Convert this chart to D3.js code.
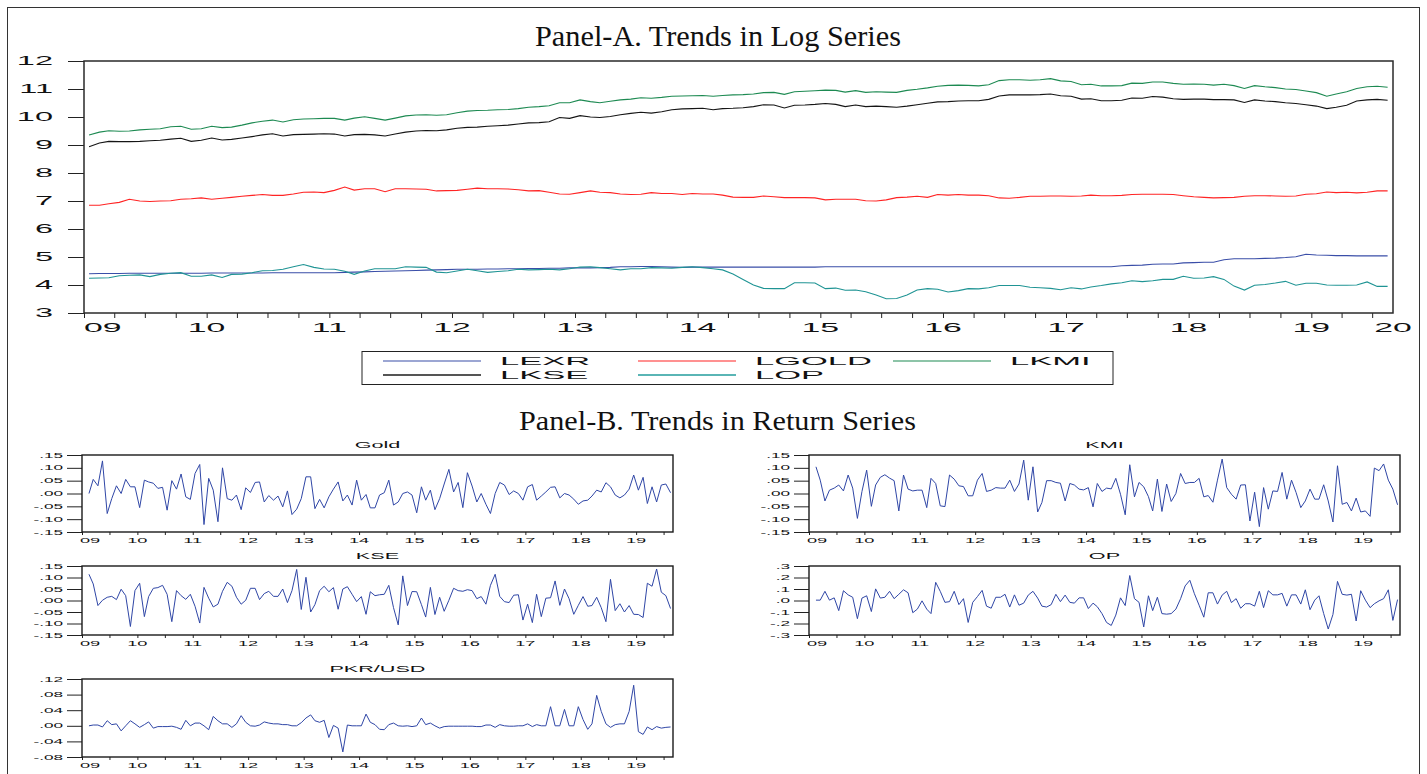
<!DOCTYPE html>
<html>
<head>
<meta charset="utf-8">
<script src="https://cdn.jsdelivr.net/npm/d3@7"></script>
<style>
  body { margin: 0; background: #fff; }
  svg { display: block; }
</style>
</head>
<body>
<script>
// ---- Panel A: monthly log levels, Jan 2009 .. Aug 2019
const lexr = [4.40,4.41,4.41,4.41,4.42,4.42,4.42,4.42,4.42,4.42,4.42,4.42,
  4.43,4.43,4.43,4.43,4.43,4.43,4.44,4.44,4.44,4.44,4.44,4.44,
  4.44,4.45,4.46,4.47,4.48,4.49,4.50,4.51,4.52,4.53,4.54,4.55,
  4.56,4.56,4.56,4.57,4.57,4.58,4.58,4.59,4.59,4.60,4.60,4.61,
  4.61,4.61,4.62,4.63,4.65,4.65,4.66,4.66,4.65,4.64,4.63,4.64,
  4.64,4.64,4.64,4.64,4.64,4.64,4.64,4.64,4.64,4.64,4.64,4.64,
  4.65,4.65,4.65,4.65,4.65,4.65,4.65,4.65,4.65,4.65,4.65,4.65,
  4.65,4.65,4.65,4.65,4.65,4.65,4.65,4.65,4.65,4.65,4.65,4.65,
  4.65,4.65,4.65,4.65,4.65,4.69,4.70,4.71,4.74,4.75,4.75,4.79,
  4.80,4.81,4.81,4.90,4.94,4.94,4.94,4.95,4.96,4.98,5.01,5.10,
  5.07,5.06,5.05,5.05,5.04,5.04,5.04,5.04];
const lgold = [6.85,6.85,6.90,6.95,7.06,7.00,6.98,7.00,7.01,7.06,
  7.08,7.11,7.06,7.10,7.13,7.17,7.20,7.23,7.20,7.20,
  7.25,7.31,7.32,7.30,7.38,7.50,7.39,7.44,7.44,7.33,
  7.44,7.44,7.43,7.42,7.36,7.37,7.38,7.42,7.46,7.44,
  7.44,7.43,7.40,7.36,7.37,7.31,7.25,7.24,7.30,7.36,
  7.31,7.30,7.25,7.23,7.24,7.30,7.27,7.27,7.23,7.27,
  7.25,7.25,7.21,7.14,7.13,7.13,7.18,7.15,7.12,7.12,
  7.12,7.11,7.04,7.06,7.06,7.06,7.01,7.00,7.04,7.12,
  7.14,7.17,7.13,7.23,7.21,7.23,7.21,7.21,7.19,7.11,
  7.10,7.13,7.17,7.17,7.18,7.18,7.17,7.18,7.21,7.19,
  7.19,7.20,7.23,7.24,7.24,7.24,7.23,7.19,7.15,7.13,
  7.11,7.12,7.13,7.17,7.19,7.19,7.18,7.17,7.18,7.24,
  7.26,7.32,7.30,7.31,7.29,7.31,7.36,7.36];
const lkmi = [9.36,9.46,9.51,9.49,9.50,9.54,9.56,9.58,9.65,9.67,
  9.56,9.58,9.67,9.62,9.64,9.71,9.79,9.85,9.89,9.82,
  9.90,9.93,9.94,9.95,9.95,9.89,9.96,10.01,9.95,9.89,
  9.96,10.04,10.07,10.08,10.06,10.08,10.15,10.21,10.23,10.24,
  10.26,10.27,10.30,10.35,10.37,10.40,10.51,10.51,10.61,10.55,
  10.51,10.56,10.61,10.64,10.69,10.67,10.70,10.74,10.75,10.76,
  10.77,10.74,10.77,10.79,10.80,10.82,10.87,10.88,10.81,10.90,
  10.92,10.94,10.96,10.95,10.89,10.94,10.88,10.90,10.89,10.88,
  10.95,10.99,11.04,11.10,11.13,11.14,11.13,11.11,11.15,11.30,
  11.33,11.33,11.31,11.33,11.37,11.29,11.27,11.15,11.17,11.11,
  11.11,11.12,11.21,11.20,11.25,11.25,11.20,11.17,11.18,11.17,
  11.14,11.17,11.12,11.02,11.12,11.08,11.05,11.00,10.98,10.93,
  10.87,10.74,10.82,10.90,11.02,11.08,11.10,11.06];
const lkse = [8.94,9.07,9.13,9.12,9.12,9.13,9.15,9.17,9.21,9.24,
  9.13,9.17,9.25,9.18,9.20,9.25,9.30,9.36,9.40,9.32,
  9.37,9.38,9.39,9.40,9.39,9.32,9.37,9.38,9.36,9.32,
  9.39,9.46,9.50,9.52,9.51,9.54,9.60,9.63,9.64,9.67,
  9.69,9.71,9.75,9.79,9.80,9.83,9.98,9.95,10.05,10.00,
  9.98,10.02,10.08,10.13,10.17,10.14,10.19,10.26,10.29,10.30,
  10.31,10.26,10.30,10.31,10.33,10.37,10.44,10.43,10.32,10.42,
  10.43,10.45,10.48,10.45,10.37,10.43,10.37,10.39,10.37,10.35,
  10.39,10.44,10.49,10.54,10.55,10.57,10.58,10.58,10.63,10.75,
  10.79,10.79,10.79,10.80,10.82,10.76,10.74,10.64,10.65,10.58,
  10.58,10.60,10.68,10.67,10.73,10.71,10.65,10.63,10.64,10.64,
  10.62,10.62,10.61,10.52,10.61,10.57,10.55,10.51,10.48,10.44,
  10.39,10.30,10.35,10.42,10.57,10.61,10.63,10.60];
const lop = [4.24,4.25,4.26,4.33,4.35,4.36,4.30,4.38,4.42,4.44,
  4.31,4.31,4.36,4.27,4.38,4.39,4.44,4.51,4.52,4.56,
  4.65,4.73,4.63,4.57,4.56,4.49,4.38,4.50,4.58,4.58,
  4.58,4.65,4.64,4.63,4.46,4.44,4.50,4.56,4.51,4.45,
  4.48,4.51,4.56,4.54,4.55,4.56,4.54,4.58,4.64,4.65,
  4.62,4.58,4.54,4.58,4.58,4.62,4.61,4.60,4.63,4.65,
  4.62,4.58,4.54,4.39,4.20,4.00,3.88,3.87,3.87,4.08,
  4.08,4.07,3.87,3.89,3.81,3.82,3.76,3.64,3.51,3.52,
  3.64,3.82,3.87,3.85,3.75,3.80,3.87,3.86,3.90,3.98,
  3.98,3.98,3.92,3.90,3.88,3.83,3.90,3.86,3.93,3.98,
  4.04,4.08,4.15,4.12,4.15,4.20,4.20,4.31,4.24,4.25,
  4.30,4.20,3.96,3.82,3.99,4.02,4.07,4.13,3.99,4.06,
  4.06,4.00,3.99,3.99,4.00,4.11,3.95,3.95];

const seriesA = ["LEXR", "LGOLD", "LKMI", "LKSE", "LOP"];
const yTicksA = [3, 4, 5, 6, 7, 8, 9, 10, 11, 12];
const yearLabelsA = ["09","10","11","12","13","14","15","16","17","18","19","20"];

// ---- Panel B: monthly returns, Feb 2009 .. Aug 2019
const gold = [0.000,0.055,0.030,0.127,-0.078,-0.020,0.030,0.000,0.055,0.026,
  0.026,-0.055,0.052,0.045,0.040,0.020,0.024,-0.065,0.050,0.017,
  0.076,-0.013,-0.023,0.078,0.113,-0.121,0.059,0.013,-0.110,0.100,
  -0.020,-0.026,-0.006,-0.063,0.022,0.004,0.043,0.045,-0.033,-0.008,
  -0.026,-0.010,-0.052,0.010,-0.082,-0.061,-0.020,0.065,0.065,-0.059,
  -0.023,-0.056,-0.013,0.017,0.045,-0.029,-0.006,-0.045,0.052,-0.026,
  -0.004,-0.056,-0.056,-0.006,0.003,0.052,-0.045,-0.033,0.000,0.006,
  -0.006,-0.075,0.026,-0.026,0.013,-0.063,-0.020,0.037,0.094,0.006,
  0.043,-0.055,0.081,0.029,-0.033,0.000,-0.042,-0.078,0.000,0.043,
  0.033,-0.004,0.010,0.000,-0.026,0.026,0.035,-0.026,-0.010,0.006,
  0.024,0.026,-0.017,0.000,-0.006,-0.022,-0.042,-0.029,-0.026,-0.010,
  0.013,0.006,0.042,0.026,-0.006,-0.017,-0.006,0.017,0.072,0.013,
  0.063,-0.039,0.026,-0.033,0.033,0.037,0.003];
const kmi = [0.104,0.052,-0.029,0.013,0.021,0.033,0.010,0.072,0.021,-0.097,
  0.008,0.091,-0.050,0.033,0.063,0.073,0.060,0.050,-0.068,0.072,
  0.017,0.010,0.013,0.013,-0.055,0.059,0.039,-0.048,-0.051,0.072,
  0.056,0.030,0.027,-0.009,-0.009,0.052,0.078,0.008,0.013,0.023,
  0.021,0.021,0.052,0.008,0.037,0.130,-0.026,0.104,-0.072,-0.035,
  0.050,0.050,0.043,0.040,-0.029,0.039,0.033,0.017,0.014,0.023,
  -0.052,0.039,0.008,0.021,0.018,0.059,-0.003,-0.083,0.112,-0.013,
  0.043,0.026,-0.012,-0.068,0.056,-0.070,0.037,-0.031,0.000,0.078,
  0.039,0.043,0.043,0.059,-0.013,-0.008,-0.034,0.052,0.134,0.023,
  -0.003,-0.022,0.033,0.034,-0.107,0.005,-0.129,0.023,-0.061,0.010,
  0.008,0.082,-0.022,0.052,0.004,-0.055,-0.029,0.017,-0.022,-0.022,
  0.034,-0.029,-0.111,0.108,-0.042,-0.035,-0.068,-0.018,-0.072,-0.068,
  -0.089,0.099,0.089,0.115,0.052,0.017,-0.044];
const kse = [0.114,0.072,-0.022,0.001,0.014,0.018,0.004,0.049,0.021,-0.113,
  0.043,0.075,-0.070,0.017,0.053,0.056,0.066,0.027,-0.092,0.043,
  0.021,0.005,0.027,-0.025,-0.098,0.057,0.010,-0.028,-0.016,0.040,
  0.079,0.062,0.014,-0.016,0.001,0.053,0.053,0.004,0.030,0.040,
  0.018,0.018,0.050,-0.009,0.043,0.135,-0.039,0.101,-0.050,-0.018,
  0.043,0.062,0.038,0.056,-0.038,0.050,0.060,0.027,-0.005,0.017,
  -0.060,0.038,0.021,0.025,0.027,0.066,-0.031,-0.106,0.107,-0.022,
  0.039,0.038,-0.018,-0.072,0.057,-0.061,0.014,-0.047,0.001,0.053,
  0.043,0.040,0.047,0.043,0.008,0.017,-0.016,0.066,0.114,0.018,
  -0.005,-0.009,0.023,0.025,-0.085,-0.016,-0.096,0.027,-0.070,0.010,
  0.012,0.085,-0.021,0.050,0.008,-0.060,-0.021,0.017,-0.025,-0.022,
  0.014,-0.031,-0.092,0.092,-0.044,-0.014,-0.050,-0.022,-0.060,-0.061,
  -0.074,0.075,0.062,0.137,0.036,0.021,-0.035];
const op = [0.003,0.003,0.080,0.003,0.023,-0.088,0.085,0.049,0.028,-0.158,
  0.021,0.041,-0.096,0.101,0.021,0.028,0.080,0.016,0.054,0.093,
  0.067,-0.106,-0.075,-0.003,-0.075,-0.114,0.158,0.080,-0.016,-0.010,
  0.080,-0.036,0.016,-0.191,-0.016,0.034,0.088,-0.049,-0.067,0.028,
  0.028,0.054,-0.057,0.049,-0.041,-0.023,0.047,0.080,0.021,-0.049,
  -0.057,-0.036,0.054,-0.010,0.047,-0.016,-0.023,0.023,0.023,-0.070,
  -0.023,-0.054,-0.114,-0.191,-0.217,-0.127,0.023,-0.044,0.217,0.016,
  -0.016,-0.230,0.041,-0.088,0.028,-0.114,-0.119,-0.114,-0.075,0.016,
  0.127,0.176,0.059,-0.041,-0.145,0.067,0.067,-0.031,0.047,0.080,
  -0.018,0.016,-0.067,-0.028,-0.028,-0.049,0.080,-0.062,0.085,0.049,
  0.049,0.062,-0.049,0.049,0.049,-0.031,0.093,-0.080,0.003,0.041,
  -0.114,-0.248,-0.122,0.166,0.054,0.047,0.054,-0.178,0.085,0.003,
  -0.062,-0.028,-0.003,0.016,0.093,-0.173,0.008];
const pkr = [0.000,0.002,0.002,-0.003,0.013,0.003,0.005,-0.013,0.000,0.013,
  0.005,-0.004,0.003,0.010,-0.006,-0.002,-0.002,-0.002,-0.001,-0.004,
  -0.009,0.014,0.000,0.007,0.007,0.000,-0.010,0.024,0.013,0.005,
  0.005,-0.004,0.005,0.026,0.009,0.000,-0.001,0.002,0.010,0.007,
  0.005,0.005,0.003,0.003,0.000,0.000,0.008,0.020,0.028,0.013,
  0.009,0.014,-0.030,0.001,-0.006,-0.067,0.002,0.000,0.000,0.000,
  0.030,0.009,0.003,-0.009,-0.010,0.003,0.007,0.000,-0.001,0.000,
  -0.002,0.000,0.020,0.003,0.007,0.000,-0.006,-0.002,-0.001,-0.001,
  -0.001,-0.001,-0.001,-0.001,-0.002,-0.002,0.002,0.002,-0.004,0.003,
  0.000,-0.001,-0.001,0.000,0.000,0.005,-0.002,0.003,0.000,0.000,
  0.049,0.000,0.000,0.042,0.000,0.000,0.049,0.016,-0.009,0.005,
  0.078,0.037,0.005,-0.004,0.003,0.005,0.005,0.037,0.104,-0.015,
  -0.022,-0.003,-0.010,-0.002,-0.006,-0.004,-0.003];

const titlesB = ["Gold", "KMI", "KSE", "OP", "PKR/USD"];
const tickValsB = [
  [-0.15,-0.10,-0.05,0,0.05,0.10,0.15],
  [-0.15,-0.10,-0.05,0,0.05,0.10,0.15],
  [-0.15,-0.10,-0.05,0,0.05,0.10,0.15],
  [-0.3,-0.2,-0.1,0,0.1,0.2,0.3],
  [-0.08,-0.04,0,0.04,0.08,0.12]];
const tickLabsB = [
  ["-.15","-.10","-.05",".00",".05",".10",".15"],
  ["-.15","-.10","-.05",".00",".05",".10",".15"],
  ["-.15","-.10","-.05",".00",".05",".10",".15"],
  ["-.3","-.2","-.1",".0",".1",".2",".3"],
  ["-.08","-.04",".00",".04",".08",".12"]];
const yearLabelsB = ["09","10","11","12","13","14","15","16","17","18","19"];

// ---------------------------------------------------------------
const W = 1427, H = 774;
const sans = "'Liberation Sans', Arial, sans-serif";
const serif = "'Liberation Serif', 'Times New Roman', serif";

const svg = d3.select("body").append("svg")
  .attr("width", W).attr("height", H);

// outer frame
svg.append("rect")
  .attr("x", 7.5).attr("y", 7.5).attr("width", 1412).attr("height", H)
  .attr("fill", "none").attr("stroke", "#333").attr("stroke-width", 1);

// text stretched sideways like the eviews export
function wide(g, str, x, y, size, sx, anchor, family) {
  const t = g.append("text")
    .attr("x", x).attr("y", y)
    .attr("font-size", size)
    .attr("font-family", family || sans)
    .attr("fill", "#111")
    .text(str);
  const w = t.node().getComputedTextLength() * sx;
  t.attr("textLength", w).attr("lengthAdjust", "spacingAndGlyphs");
  if (anchor === "end") t.attr("x", x - w);
  else if (anchor === "middle") t.attr("x", x - w / 2);
  return t;
}

// ---------------- Panel A
const gA = svg.append("g");
const datesA = lexr.map((d, i) => new Date(2009, i, 16));
const xA = d3.scaleTime()
  .domain([new Date(2009, 0, 1), new Date(2019, 8, 1)])
  .range([84, 1393]);
const yA = d3.scaleLinear().domain([3, 12]).range([313, 61]);

const title = gA.append("text")
  .attr("font-family", serif).attr("font-size", 29)
  .attr("y", 46).attr("fill", "#111")
  .text("Panel-A. Trends in Log Series")
  .attr("textLength", 366).attr("lengthAdjust", "spacingAndGlyphs")
  .attr("x", 718 - 183);

// quarter ticks on x
gA.append("g")
  .attr("transform", "translate(0,313)")
  .call(d3.axisBottom(xA)
    .tickValues(d3.timeMonth.every(3).range(new Date(2009, 0, 1), new Date(2019, 8, 1)))
    .tickSize(5).tickFormat(""))
  .call(g => g.select(".domain").remove())
  .call(g => g.selectAll("line").attr("stroke", "#222"));

gA.append("g")
  .attr("transform", "translate(84,0)")
  .call(d3.axisLeft(yA).tickValues(yTicksA).tickSize(16).tickFormat(""))
  .call(g => g.select(".domain").remove())
  .call(g => g.selectAll("line").attr("stroke", "#222"));

yTicksA.forEach(v => wide(gA, String(v), 53, yA(v) + 4, 13, 2.5, "end"));

yearLabelsA.forEach((lab, i) => {
  if (i === 0) wide(gA, lab, xA(new Date(2009, 0, 1)), 332, 13, 2.6, "start");
  else if (i === yearLabelsA.length - 1) wide(gA, lab, xA.range()[1], 332, 13, 2.6, "middle");
  else wide(gA, lab, xA(new Date(2009 + i, 0, 1)), 332, 13, 2.6, "middle");
});

const colorsA = { LEXR: "#3a4ea8", LGOLD: "#ff2424", LKMI: "#1d8a52", LKSE: "#151515", LOP: "#1f9494" };
const legendCol = { LEXR: "#3a4ea8", LGOLD: "#ff2424", LKMI: "#1d8a52", LKSE: "#555555", LOP: "#5ab5b5" };
const dataA = { LEXR: lexr, LGOLD: lgold, LKMI: lkmi, LKSE: lkse, LOP: lop };

const lineA = d3.line().x((d, i) => xA(datesA[i])).y(d => yA(d));
// draw order so that green/black sit on top like the reference
["LEXR", "LOP", "LGOLD", "LKSE", "LKMI"].forEach(k => {
  gA.append("path").datum(dataA[k])
    .attr("d", lineA)
    .attr("fill", "none")
    .attr("stroke", colorsA[k])
    .attr("stroke-width", 1.1);
});

gA.append("rect")
  .attr("x", 84).attr("y", 61).attr("width", 1393 - 84).attr("height", 313 - 61)
  .attr("fill", "none").attr("stroke", "#2a2a2a").attr("stroke-width", 1.5);

// legend
const gL = svg.append("g");
gL.append("rect").attr("x", 362).attr("y", 351.5).attr("width", 751).attr("height", 33)
  .attr("fill", "#fff").attr("stroke", "#222").attr("stroke-width", 1);
seriesA.forEach((k, i) => {
  const col = i % 3, row = Math.floor(i / 3);
  const lx = 383 + col * 255;
  const ly = 361 + row * 14;
  gL.append("line").attr("x1", lx).attr("x2", lx + 98).attr("y1", ly).attr("y2", ly)
    .attr("stroke", legendCol[k]).attr("stroke-width", row ? 1.8 : 1.2);
  wide(gL, k, lx + 117 + (col === 2 ? -0 : 0), ly + 3.6, 11.5, 3.0, "start");
});

const titleB = svg.append("text")
  .attr("font-family", serif).attr("font-size", 28)
  .attr("y", 430).attr("fill", "#111")
  .text("Panel-B. Trends in Return Series")
  .attr("textLength", 397).attr("lengthAdjust", "spacingAndGlyphs")
  .attr("x", 717.5 - 198.5);

// ---------------- Panel B small multiples
const dataB = [gold, kmi, kse, op, pkr];
const boxes = [
  { x0: 82, x1: 673, y0: 455, y1: 532 },
  { x0: 809, x1: 1400, y0: 455, y1: 532 },
  { x0: 82, x1: 673, y0: 566, y1: 635 },
  { x0: 809, x1: 1400, y0: 566, y1: 635 },
  { x0: 82, x1: 673, y0: 679, y1: 757 }];

dataB.forEach((vals, p) => {
  const b = boxes[p];
  const g = svg.append("g");
  const dates = vals.map((d, i) => new Date(2009, 1 + i, 16));
  const x = d3.scaleTime()
    .domain([new Date(2009, 0, 1), new Date(2019, 8, 1)])
    .range([b.x0, b.x1]);
  const tv = tickValsB[p];
  const y = d3.scaleLinear().domain([tv[0], tv[tv.length - 1]]).range([b.y1, b.y0]);

  wide(g, titlesB[p], (b.x0 + b.x1) / 2, b.y0 - 7, 9, 2.4, "middle");

  g.append("g").attr("transform", `translate(0,${b.y1})`)
    .call(d3.axisBottom(x)
      .tickValues(d3.timeMonth.every(6).range(new Date(2009, 0, 1), new Date(2019, 8, 1)))
      .tickSize(3).tickFormat(""))
    .call(s => s.select(".domain").remove())
    .call(s => s.selectAll("line").attr("stroke", "#222"));

  g.append("g").attr("transform", `translate(${b.x0},0)`)
    .call(d3.axisLeft(y).tickValues(tv).tickSize(15).tickFormat(""))
    .call(s => s.select(".domain").remove())
    .call(s => s.selectAll("line").attr("stroke", "#222"));

  tv.forEach((v, i) => wide(g, tickLabsB[p][i], b.x0 - 19, y(v) + 2.5, 7, 2.45, "end"));

  yearLabelsB.forEach((lab, i) => {
    const xx = x(new Date(2009 + i, 0, 1));
    wide(g, lab, i === 0 ? xx - 2 : xx, b.y1 + 11, 7, 2.6, i === 0 ? "start" : "middle");
  });

  g.append("path").datum(vals)
    .attr("d", d3.line().x((d, i) => x(dates[i])).y(d => y(d)))
    .attr("fill", "none").attr("stroke", "#2f46a6").attr("stroke-width", 1);

  g.append("rect")
    .attr("x", b.x0).attr("y", b.y0).attr("width", b.x1 - b.x0).attr("height", b.y1 - b.y0)
    .attr("fill", "none").attr("stroke", "#1a1a1a").attr("stroke-width", 1.4);
});
</script>
</body>
</html>
